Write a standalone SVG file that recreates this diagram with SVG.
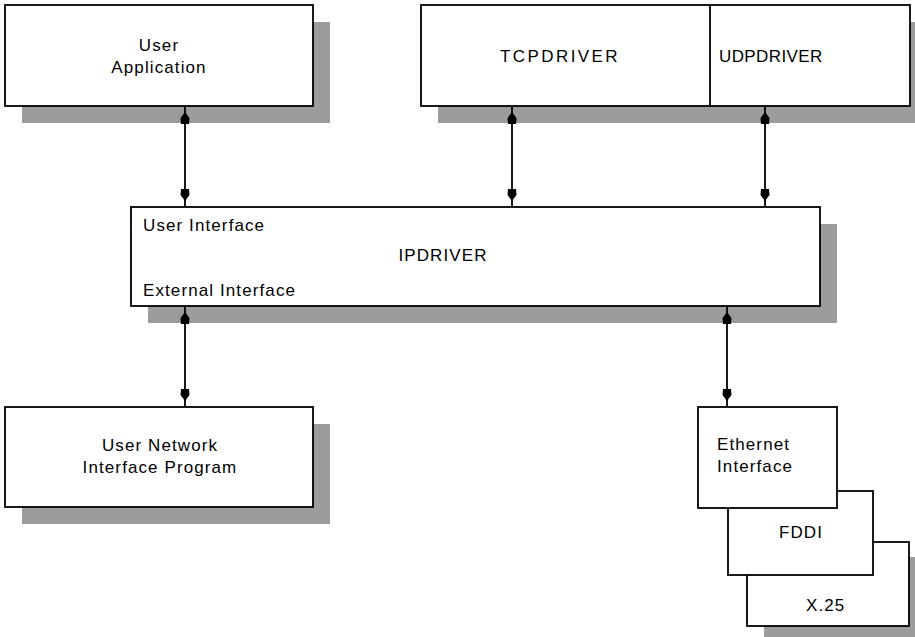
<svg xmlns="http://www.w3.org/2000/svg" width="915" height="637" viewBox="0 0 915 637">
  <style>
    .box { fill: #ffffff; stroke: #000000; stroke-width: 1.8; }
    .shadow { fill: #9c9c9c; }
    .lbl { font-family: "Liberation Sans", Arial, sans-serif; font-size: 17px; letter-spacing: 1.1px; fill: #000000; }
    .mid { text-anchor: middle; }
    .link { stroke: #000000; stroke-width: 1.8; fill: none; marker-start: url(#head); marker-end: url(#head); }
  </style>
  <defs>
    <!-- block-shaped head that sits a few pixels short of the line end -->
    <marker id="head" viewBox="0 0 20 10" refX="18" refY="5" markerWidth="20" markerHeight="10" markerUnits="userSpaceOnUse" orient="auto-start-reverse" overflow="visible">
      <path d="M0,1 L6,0.5 L12,5 L6,9.5 L0,9 Z" fill="#000000"/>
    </marker>
  </defs>

  <rect width="915" height="637" fill="#ffffff"/>

  <!-- drop shadows -->
  <g id="shadows">
    <rect class="shadow" x="22" y="22" width="308" height="101"/>
    <rect class="shadow" x="438" y="22" width="489" height="101"/>
    <rect class="shadow" x="148" y="224" width="689" height="99"/>
    <rect class="shadow" x="22" y="424" width="308" height="100"/>
    <rect class="shadow" x="764" y="557" width="163" height="85"/>
  </g>

  <!-- connectors -->
  <g id="connectors">
    <line class="link" x1="185" y1="106" x2="185" y2="207"/>
    <line class="link" x1="512" y1="106" x2="512" y2="207"/>
    <line class="link" x1="765" y1="106" x2="765" y2="207"/>
    <line class="link" x1="185" y1="306" x2="185" y2="407"/>
    <line class="link" x1="727" y1="306" x2="727" y2="407"/>
  </g>

  <g id="user-application">
    <rect class="box" x="5" y="5" width="308" height="101"/>
    <text class="lbl mid" x="159" y="51">User</text>
    <text class="lbl mid" x="159" y="73">Application</text>
  </g>

  <g id="transport-drivers">
    <rect class="box" x="421" y="5" width="489" height="101"/>
    <line x1="710" y1="5" x2="710" y2="106" stroke="#000000" stroke-width="1.8"/>
    <text class="lbl mid" x="560" y="62" style="letter-spacing:2.4px">TCPDRIVER</text>
    <text class="lbl" x="719" y="62" style="letter-spacing:0.4px">UDPDRIVER</text>
  </g>

  <g id="ipdriver">
    <rect class="box" x="131" y="207" width="689" height="99"/>
    <text class="lbl" x="143" y="231">User Interface</text>
    <text class="lbl mid" x="443" y="261">IPDRIVER</text>
    <text class="lbl" x="143" y="296">External Interface</text>
  </g>

  <g id="user-network-interface-program">
    <rect class="box" x="5" y="407" width="308" height="100"/>
    <text class="lbl mid" x="160" y="451">User Network</text>
    <text class="lbl mid" x="160" y="473">Interface Program</text>
  </g>

  <g id="x25">
    <rect class="box" x="747" y="542" width="162" height="84"/>
    <text class="lbl" x="806" y="611">X.25</text>
  </g>

  <g id="fddi">
    <rect class="box" x="728" y="491" width="145" height="84"/>
    <text class="lbl" x="779" y="538">FDDI</text>
  </g>

  <g id="ethernet-interface">
    <rect class="box" x="698" y="407" width="139" height="101"/>
    <text class="lbl" x="717" y="450">Ethernet</text>
    <text class="lbl" x="717" y="472">Interface</text>
  </g>
</svg>
